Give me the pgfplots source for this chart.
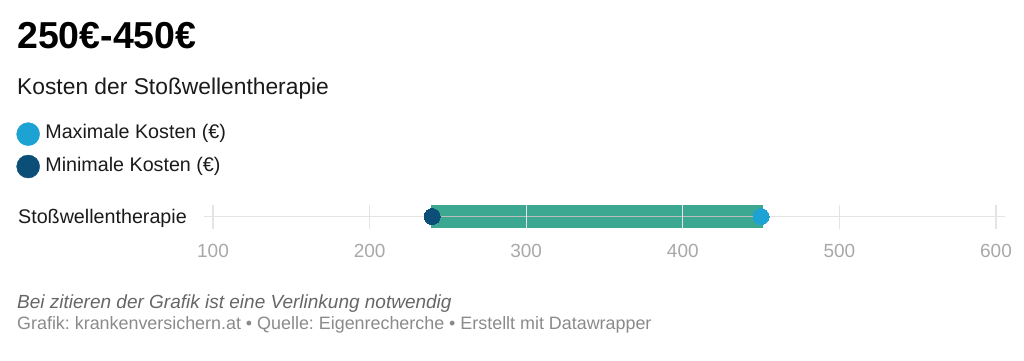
\documentclass[border=0pt]{standalone}
\usepackage{pgfplots}
\pgfplotsset{compat=1.18}
\usepackage{fontspec}
\setmainfont{Liberation Sans}
\frenchspacing
\definecolor{cTeal}{HTML}{3DA891}
\definecolor{cDark}{HTML}{0B4F79}
\definecolor{cLight}{HTML}{1CA3D3}
\definecolor{cGrid}{HTML}{E4E4E4}
\definecolor{cMid}{HTML}{BDBDBD}
\definecolor{cTick}{HTML}{A8A8A8}
\definecolor{cFoot}{HTML}{8A8A8A}
\definecolor{cItal}{HTML}{666666}
\definecolor{cText}{HTML}{1A1A1A}
\begin{document}
\begin{tikzpicture}[x=1pt,y=1pt]
\useasboundingbox (0,0) rectangle (1024,360);
\node[anchor=base west, inner sep=0pt, font=\fontsize{37.5}{42}\selectfont\bfseries] at (17,312) {250€-450€};
\node[anchor=base west, inner sep=0pt, font=\fontsize{22.8}{26}\selectfont, text=cText] at (17,266) {Kosten der Stoßwellentherapie};
\begin{axis}[
  at={(203.6pt,131.5pt)}, anchor=south west,
  width=801.8pt, height=24pt, scale only axis,
  xmin=94, xmax=606, ymin=-1, ymax=1,
  axis line style={draw=none},
  xtick={100,200,300,400,500,600}, ytick={0}, yticklabels={Stoßwellentherapie},
  major tick length=0pt,
  xmajorgrids, grid style={cGrid, line width=1.3pt},
  axis on top,
  /pgf/number format/assume math mode=true,
  xticklabel style={font=\fontsize{19}{22}\selectfont, text=cTick, anchor=base, inner sep=0pt, yshift=-28.5pt},
  yticklabel style={font=\fontsize{19.7}{22}\selectfont, text=cText, anchor=base east, inner sep=0pt, xshift=-16.6pt, yshift=-6.5pt},
  legend style={at={(axis description cs:-0.2334,4.42)}, anchor=north west, draw=none, fill=none,
    inner sep=0pt, outer sep=0pt, row sep=9pt, column sep=5.5pt,
    font=\fontsize{19.7}{22}\selectfont, text=cText,
    nodes={inner sep=0pt, text height=14pt, text depth=5pt}},
  legend cell align=left,
]
\addplot[cGrid, line width=1.5pt, forget plot] coordinates {(94,0) (606,0)};
\addplot[fill=cTeal, draw=none, forget plot] coordinates {(239,-0.92) (451,-0.92) (451,0.92) (239,0.92)} -- cycle;
\addplot[cMid, line width=1.5pt, forget plot] coordinates {(240,0) (450,0)};
\addplot[cLight, only marks, mark=*, mark size=8pt, mark options={draw=cLight, fill=cLight, line width=0pt},
  legend image code/.code={\fill[cLight] (11.5pt,0pt) circle (11.5pt);}] coordinates {(450,0)};
\addlegendentry{Maximale Kosten (€)}
\addplot[cDark, only marks, mark=*, mark size=8pt, mark options={draw=cDark, fill=cDark, line width=0pt},
  legend image code/.code={\fill[cDark] (11.5pt,0pt) circle (11.5pt);}] coordinates {(240,0)};
\addlegendentry{Minimale Kosten (€)}
\end{axis}
\node[anchor=base west, inner sep=0pt, font=\fontsize{19}{22}\selectfont\itshape, text=cItal] at (17,52) {Bei zitieren der Grafik ist eine Verlinkung notwendig};
\node[anchor=base west, inner sep=0pt, font=\fontsize{17.9}{22}\selectfont, text=cFoot] at (17,31) {Grafik: krankenversichern.at • Quelle: Eigenrecherche • Erstellt mit Datawrapper};
\end{tikzpicture}
\end{document}
